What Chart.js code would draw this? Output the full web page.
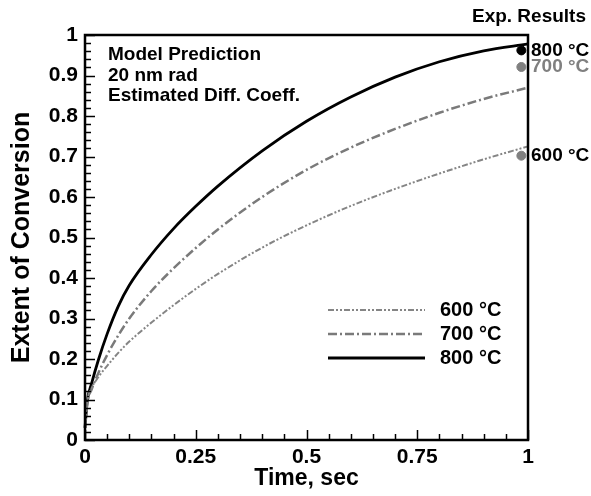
<!DOCTYPE html>
<html>
<head>
<meta charset="utf-8">
<script src="https://cdn.jsdelivr.net/npm/chart.js@4"></script>
<style>
  html, body { margin: 0; padding: 0; background: #fff; }
  #wrap { width: 591px; height: 496px; }
</style>
</head>
<body>
<div id="wrap"><canvas id="conversion-chart"></canvas></div>
<script>
const FONT = "'Liberation Sans', Arial, sans-serif"

// model prediction, time in sec
const timeSec = [0, 0.005, 0.015, 0.03, 0.05, 0.075, 0.1, 0.15, 0.2, 0.25, 0.3, 0.4, 0.5, 0.6, 0.7, 0.8, 0.9, 1.0]
const conv600 = [0.03, 0.095, 0.128, 0.155, 0.183, 0.215, 0.243, 0.29, 0.333, 0.373, 0.41, 0.475, 0.53, 0.578, 0.62, 0.658, 0.693, 0.725]
const conv700 = [0.03, 0.09, 0.125, 0.165, 0.21, 0.258, 0.3, 0.368, 0.424, 0.474, 0.52, 0.6, 0.667, 0.722, 0.768, 0.808, 0.842, 0.87]
const conv800 = [0.03, 0.095, 0.14, 0.197, 0.262, 0.33, 0.382, 0.458, 0.522, 0.577, 0.627, 0.714, 0.787, 0.847, 0.896, 0.934, 0.961, 0.978]

// experimental results (600, 700, 800 °C)
const expLabels = ['600 °C', '700 °C', '800 °C']
const expTime = [0.985, 0.985, 0.985]
const expConv = [0.702, 0.921, 0.962]
const expColors = ['#808080', '#808080', '#000000']
const expTextColors = ['#000000', '#808080', '#000000']

const xTicks = [0, 0.25, 0.5, 0.75, 1]
const yTicks = [0, 0.1, 0.2, 0.3, 0.4, 0.5, 0.6, 0.7, 0.8, 0.9, 1]
const noteLines = ['Model Prediction', '20 nm rad', 'Estimated Diff. Coeff.']

const toPts = (ys) => timeSec.map((t, i) => ({ x: t, y: ys[i] }))

const frameAndTicks = {
  id: 'frameAndTicks',
  afterDraw(chart) {
    const { ctx, chartArea: a, scales: { x, y } } = chart
    ctx.save()
    ctx.strokeStyle = '#000'
    ctx.lineWidth = 1.5
    for (let i = 0; i <= 20; i++) {
      const px = Math.round(x.getPixelForValue(i / 20)) + 0.5
      const len = i % 5 === 0 ? 10 : 6
      ctx.beginPath(); ctx.moveTo(px, a.bottom); ctx.lineTo(px, a.bottom - len); ctx.stroke()
    }
    for (let i = 0; i <= 50; i++) {
      const py = Math.round(y.getPixelForValue(i / 50)) + 0.5
      const len = i % 5 === 0 ? 10 : 6
      ctx.beginPath(); ctx.moveTo(a.left, py); ctx.lineTo(a.left + len, py); ctx.stroke()
    }
    ctx.lineWidth = 2.5
    ctx.strokeRect(a.left, a.top, a.right - a.left, a.bottom - a.top)
    ctx.restore()
  },
}

const annotations = {
  id: 'annotations',
  afterDraw(chart) {
    const { ctx, chartArea: a, scales: { y } } = chart
    ctx.save()
    ctx.textBaseline = 'middle'
    ctx.textAlign = 'left'
    ctx.fillStyle = '#000'
    ctx.font = `bold 19px ${FONT}`
    noteLines.forEach((t, i) => ctx.fillText(t, a.left + 23, a.top + 20 + i * 20.5))

    ctx.textAlign = 'right'
    ctx.fillText('Exp. Results', chart.width - 5, 17)

    ctx.textAlign = 'left'
    expLabels.forEach((t, i) => {
      ctx.fillStyle = expTextColors[i]
      ctx.fillText(t, a.right + 3, y.getPixelForValue(expConv[i]))
    })

    // legend
    ctx.font = `bold 20px ${FONT}`
    const rows = chart.data.datasets.filter((d) => d.showInLegend)
    rows.forEach((d, i) => {
      const ly = a.bottom - 130 + i * 24
      ctx.strokeStyle = d.borderColor
      ctx.lineWidth = d.borderWidth
      ctx.setLineDash(d.borderDash || [])
      ctx.beginPath(); ctx.moveTo(a.right - 200, ly); ctx.lineTo(a.right - 103, ly); ctx.stroke()
      ctx.setLineDash([])
      ctx.fillStyle = '#000'
      ctx.fillText(d.label, a.right - 88, ly)
    })
    ctx.restore()
  },
}

new Chart(document.getElementById('conversion-chart'), {
  type: 'line',
  data: {
    datasets: [
      {
        label: '600 °C',
        data: toPts(conv600),
        borderColor: '#858585',
        borderWidth: 2,
        borderDash: [6, 2, 2, 2, 2, 2],
        showInLegend: true,
      },
      {
        label: '700 °C',
        data: toPts(conv700),
        borderColor: '#7a7a7a',
        borderWidth: 2.5,
        borderDash: [9, 3, 2, 3],
        showInLegend: true,
      },
      {
        label: '800 °C',
        data: toPts(conv800),
        borderColor: '#000000',
        borderWidth: 2.8,
        showInLegend: true,
      },
      {
        label: 'Exp. Results',
        data: expTime.map((t, i) => ({ x: t, y: expConv[i] })),
        showLine: false,
        pointRadius: 4.5,
        pointBackgroundColor: expColors,
        pointBorderColor: expColors,
      },
    ],
  },
  options: {
    responsive: true,
    maintainAspectRatio: false,
    animation: false,
    clip: false,
    elements: {
      line: { cubicInterpolationMode: 'monotone', fill: false },
      point: { radius: 0 },
    },
    layout: { padding: { left: 0, right: 63, top: 35, bottom: 0 } },
    scales: {
      x: {
        type: 'linear',
        min: 0,
        max: 1,
        afterBuildTicks: (s) => { s.ticks = xTicks.map((v) => ({ value: v })) },
        afterFit: (s) => { s.height = 56 },
        grid: { display: false, drawTicks: false },
        border: { display: false },
        ticks: {
          color: '#000',
          padding: 5,
          maxRotation: 0,
          font: { family: FONT, size: 21, weight: 'bold' },
          callback: (v) => String(v),
        },
        title: {
          display: true,
          text: 'Time, sec',
          color: '#000',
          padding: { top: 0, bottom: 4 },
          font: { family: FONT, size: 23, weight: 'bold' },
        },
      },
      y: {
        min: 0,
        max: 1,
        afterBuildTicks: (s) => { s.ticks = yTicks.map((v) => ({ value: v })) },
        afterFit: (s) => { s.width = 85 },
        grid: { display: false, drawTicks: false },
        border: { display: false },
        ticks: {
          color: '#000',
          padding: 7,
          font: { family: FONT, size: 21, weight: 'bold' },
          callback: (v) => String(v),
        },
        title: {
          display: true,
          text: 'Extent of Conversion',
          color: '#000',
          padding: { top: 7, bottom: 0 },
          font: { family: FONT, size: 25, weight: 'bold' },
        },
      },
    },
    plugins: {
      legend: { display: false },
      tooltip: { enabled: false },
    },
  },
  plugins: [frameAndTicks, annotations],
})
</script>
</body>
</html>
